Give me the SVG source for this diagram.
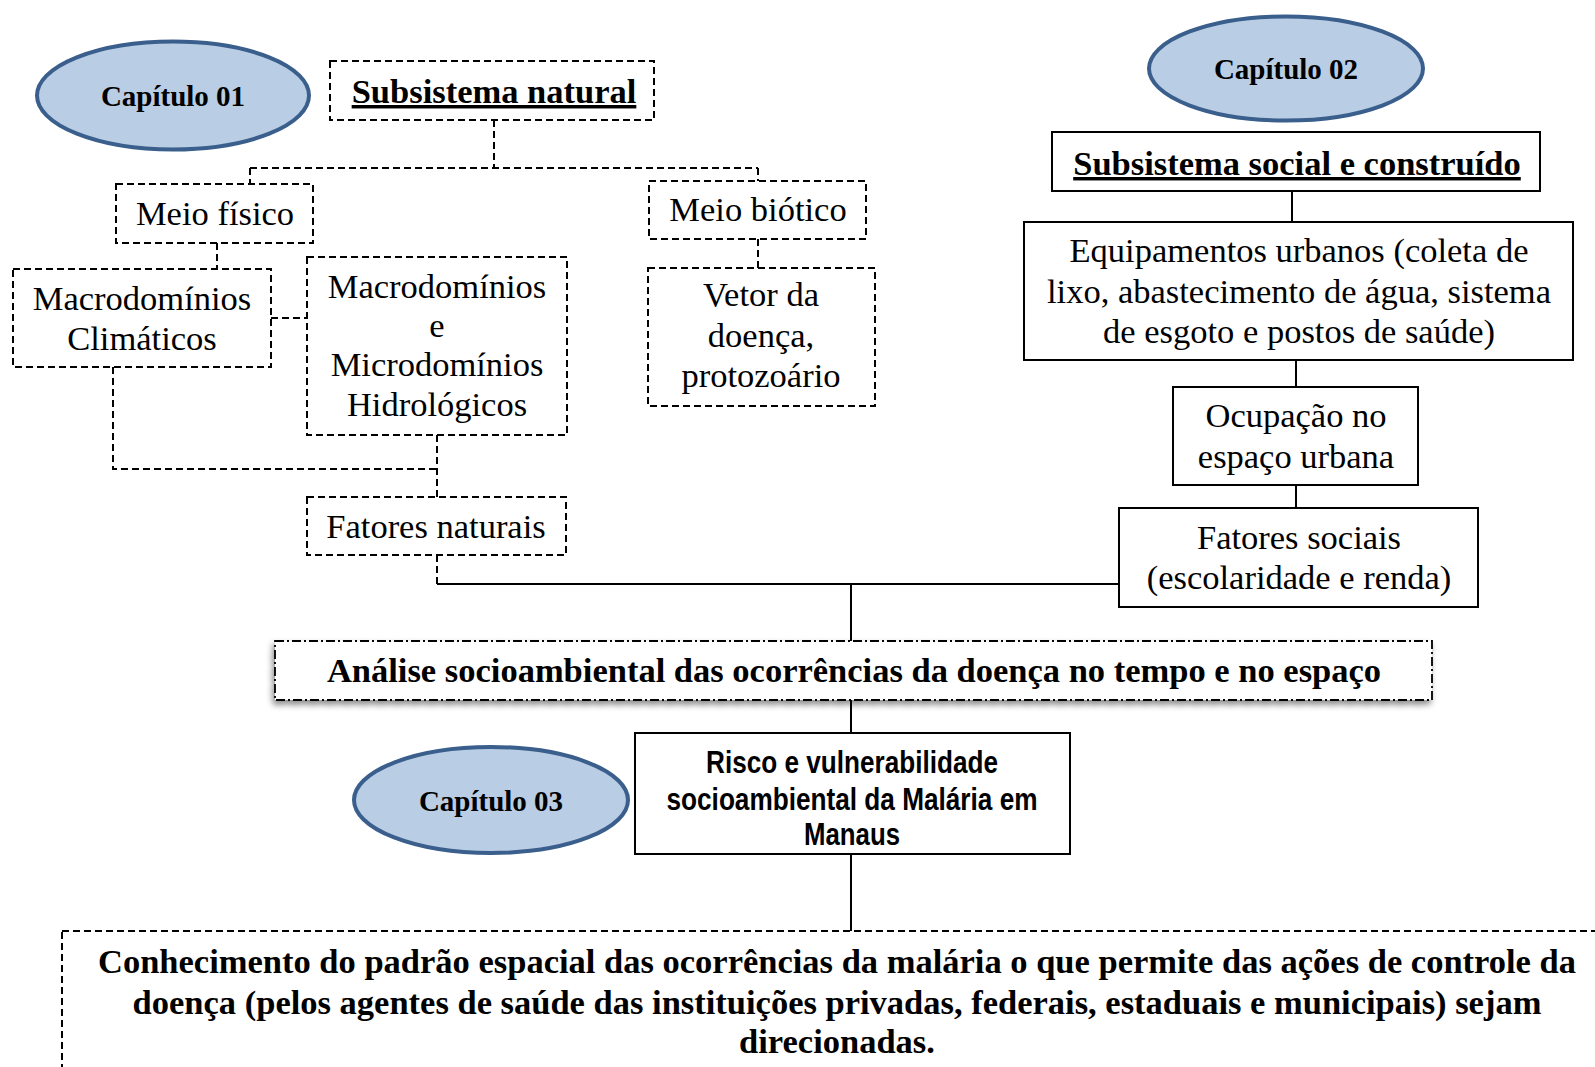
<svg xmlns="http://www.w3.org/2000/svg" width="1595" height="1067" viewBox="0 0 1595 1067">
<defs>
<style>
.t{font-family:"Liberation Serif","Times New Roman",serif;font-size:34.5px;fill:#000;text-anchor:middle}
.b{font-weight:bold}
.u{text-decoration:underline}
.cap{font-family:"Liberation Serif","Times New Roman",serif;font-size:29px;font-weight:bold;fill:#000;text-anchor:middle}
.ar{font-family:"Liberation Sans Narrow","Liberation Sans",Arial,sans-serif;font-size:32px;font-weight:bold;fill:#000;text-anchor:middle}
.dash{fill:#fff;stroke:#000;stroke-width:2;stroke-dasharray:7 4}
.solid{fill:#fff;stroke:#000;stroke-width:2}
.ell{fill:#b9cde5;stroke:#3a5f8c;stroke-width:4}
.dl{fill:none;stroke:#000;stroke-width:2;stroke-dasharray:7 4}
.sl{fill:none;stroke:#000;stroke-width:2}
.dd{fill:#fff;stroke:#000;stroke-width:1.8;stroke-dasharray:9 3 2 3}
</style>
<filter id="sh" x="-5%" y="-30%" width="110%" height="170%">
<feDropShadow dx="-2" dy="4" stdDeviation="3" flood-color="#000" flood-opacity="0.45"/>
</filter>
</defs>
<rect width="1595" height="1067" fill="#fff"/>

<g id="connectors">
<path class="dl" d="M494 120 V168 M250 168 H758 M250 168 V184 M758 168 V181"/>
<path class="dl" d="M217 243 V269"/>
<path class="dl" d="M271 318 H307"/>
<path class="dl" d="M113 367 V469 H437 M437 435 V497"/>
<path class="dl" d="M758 239 V268"/>
<path class="dl" d="M437 555 V584"/>
<path class="sl" d="M437 584 H1119 M851 584 V641"/>
<path class="sl" d="M1292 191 V222 M1296 360 V387 M1296 485 V508"/>
<path class="sl" d="M851 700 V733 M851 854 V931"/>
</g>

<g id="cap01">
<ellipse class="ell" cx="173" cy="95.5" rx="136" ry="54"/>
<text class="cap" x="173" y="106">Capítulo 01</text>
</g>

<g id="subsistema-natural">
<rect class="dash" x="330" y="61" width="324" height="59"/>
<text class="t b u" x="494" y="103">Subsistema natural</text>
</g>

<g id="meio-fisico">
<rect class="dash" x="116" y="184" width="197" height="59"/>
<text class="t" x="215" y="225">Meio físico</text>
</g>

<g id="meio-biotico">
<rect class="dash" x="649" y="181" width="217" height="58"/>
<text class="t" x="758" y="221">Meio biótico</text>
</g>

<g id="macro-climaticos">
<rect class="dash" x="13" y="269" width="258" height="98"/>
<text class="t" x="142" y="310">Macrodomínios</text>
<text class="t" x="142" y="350">Climáticos</text>
</g>

<g id="macro-micro-hidro">
<rect class="dash" x="307" y="257" width="260" height="178"/>
<text class="t" x="437" y="298">Macrodomínios</text>
<text class="t" x="437" y="337">e</text>
<text class="t" x="437" y="376">Microdomínios</text>
<text class="t" x="437" y="416">Hidrológicos</text>
</g>

<g id="vetor">
<rect class="dash" x="648" y="268" width="227" height="138"/>
<text class="t" x="761" y="306">Vetor da</text>
<text class="t" x="761" y="347">doença,</text>
<text class="t" x="761" y="387">protozoário</text>
</g>

<g id="fatores-naturais">
<rect class="dash" x="307" y="497" width="259" height="58"/>
<text class="t" x="436" y="538">Fatores naturais</text>
</g>

<g id="cap02">
<ellipse class="ell" cx="1286" cy="68.5" rx="137" ry="52"/>
<text class="cap" x="1286" y="79">Capítulo 02</text>
</g>

<g id="subsistema-social">
<rect class="solid" x="1052" y="132" width="488" height="59"/>
<text class="t b u" x="1297" y="175">Subsistema social e construído</text>
</g>

<g id="equipamentos">
<rect class="solid" x="1024" y="222" width="549" height="138"/>
<text class="t" x="1299" y="262">Equipamentos urbanos (coleta de</text>
<text class="t" x="1299" y="303">lixo, abastecimento de água, sistema</text>
<text class="t" x="1299" y="343">de esgoto e postos de saúde)</text>
</g>

<g id="ocupacao">
<rect class="solid" x="1173" y="387" width="245" height="98"/>
<text class="t" x="1296" y="427">Ocupação no</text>
<text class="t" x="1296" y="468">espaço urbana</text>
</g>

<g id="fatores-sociais">
<rect class="solid" x="1119" y="508" width="359" height="99"/>
<text class="t" x="1299" y="549">Fatores sociais</text>
<text class="t" x="1299" y="589">(escolaridade e renda)</text>
</g>

<g id="analise">
<rect class="dd" x="275" y="641" width="1157" height="59" filter="url(#sh)"/>
<text class="t b" x="854" y="682">Análise socioambiental das ocorrências da doença no tempo e no espaço</text>
</g>

<g id="cap03">
<ellipse class="ell" cx="491" cy="800" rx="137" ry="53"/>
<text class="cap" x="491" y="811">Capítulo 03</text>
</g>

<g id="risco">
<rect class="solid" x="635" y="733" width="435" height="121"/>
<text class="ar" x="852" y="773" textLength="292" lengthAdjust="spacingAndGlyphs">Risco e vulnerabilidade</text>
<text class="ar" x="852" y="810" textLength="371" lengthAdjust="spacingAndGlyphs">socioambiental da Malária em</text>
<text class="ar" x="852" y="845" textLength="96" lengthAdjust="spacingAndGlyphs">Manaus</text>
</g>

<g id="conhecimento">
<rect class="dash" x="62" y="931" width="1560" height="160"/>
<text class="t b" x="837" y="973">Conhecimento do padrão espacial das ocorrências da malária o que permite das ações de controle da</text>
<text class="t b" x="837" y="1014">doença (pelos agentes de saúde das instituições privadas, federais, estaduais e municipais) sejam</text>
<text class="t b" x="837" y="1053">direcionadas.</text>
</g>
</svg>
